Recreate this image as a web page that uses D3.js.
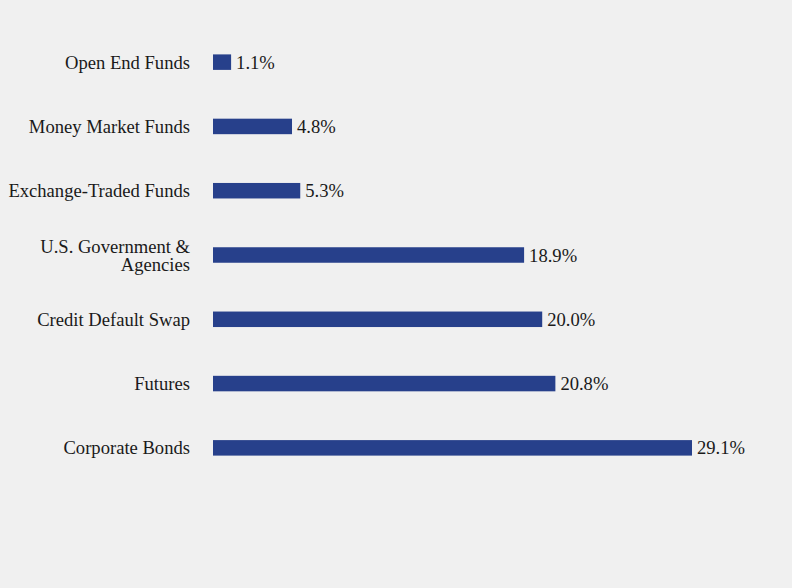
<!DOCTYPE html>
<html><head><meta charset="utf-8">
<script src="https://cdn.jsdelivr.net/npm/d3@7"></script>
<style>html,body{margin:0;padding:0;background:#f0f0f0;}svg{display:block;}</style>
</head><body>
<script>
const categories = ["Open End Funds","Money Market Funds","Exchange-Traded Funds","U.S. Government & Agencies","Credit Default Swap","Futures","Corporate Bonds"];
const categoryLines = [["Open End Funds"],["Money Market Funds"],["Exchange-Traded Funds"],["U.S. Government &","Agencies"],["Credit Default Swap"],["Futures"],["Corporate Bonds"]];
const values = [1.1,4.8,5.3,18.9,20.0,20.8,29.1];
const valueLabels = ["1.1%","4.8%","5.3%","18.9%","20.0%","20.8%","29.1%"];

const W=792,H=588;
const svg=d3.select("body").append("svg").attr("width",W).attr("height",H);
svg.append("rect").attr("width",W).attr("height",H).attr("fill","#f0f0f0");
const x=d3.scaleLinear().domain([0,29.1]).range([213,692]);
const y=d3.scaleBand().domain(categories).range([30,480]).paddingInner(0.76).paddingOuter(0.38);
const font="'Liberation Serif','Times New Roman',serif";
const fs="18.6px";
svg.selectAll("rect.bar").data(values).enter().append("rect").attr("class","bar")
 .attr("x",x(0)).attr("y",(d,i)=>y(categories[i])+y.bandwidth()/2-7.75)
 .attr("width",d=>x(d)-x(0)).attr("height",15.5).attr("fill","#27408b");
svg.selectAll("text.val").data(values).enter().append("text").attr("class","val")
 .attr("x",d=>x(d)+5).attr("y",(d,i)=>y(categories[i])+y.bandwidth()/2)
 .attr("dy","0.35em").style("font-family",font).style("font-size",fs).attr("fill","#1a1a1a")
 .text((d,i)=>valueLabels[i]);
const lab=svg.selectAll("text.cat").data(categories).enter().append("text").attr("class","cat")
 .attr("text-anchor","end").style("font-family",font).style("font-size",fs).attr("fill","#1a1a1a");
lab.each(function(c,i){
  const lines=categoryLines[i]; const cy=y(c)+y.bandwidth()/2; const lh=18;
  lines.forEach((l,j)=>{
    d3.select(this).append("tspan").attr("x",190).attr("y",cy+(j-(lines.length-1)/2)*lh).attr("dy","0.35em").text(l);
  });
});
</script>
</body></html>
